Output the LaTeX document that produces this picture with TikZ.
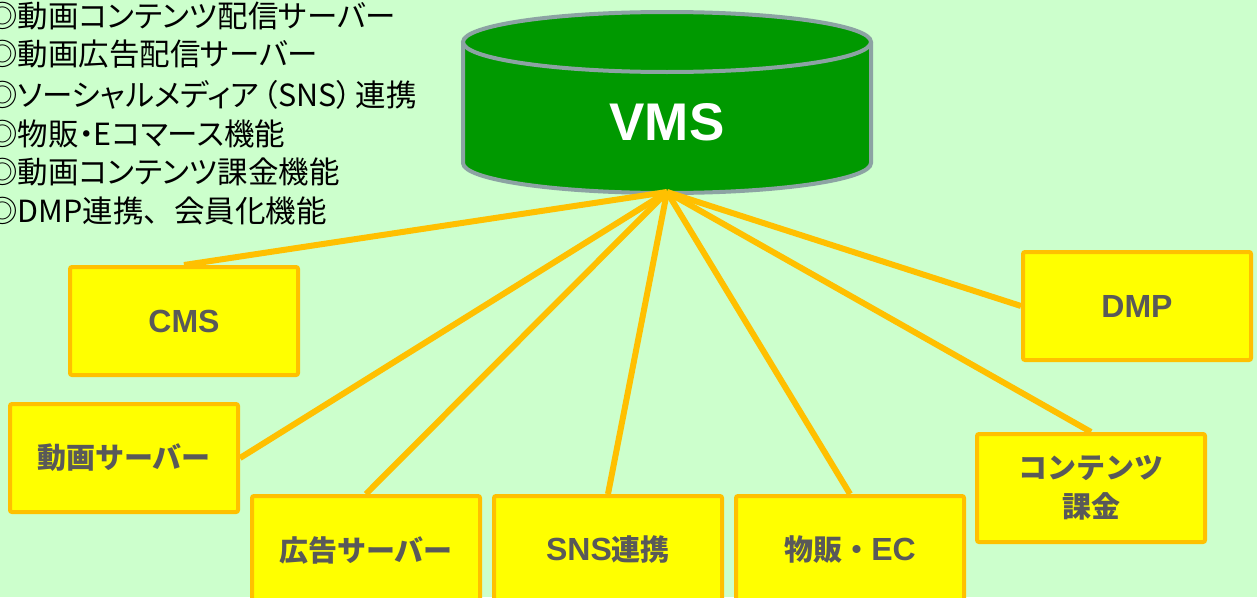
\documentclass[tikz,border=0pt]{standalone}
\usepackage{fontspec}
\newfontfamily\jp{Noto Sans CJK JP}
\newfontfamily\jpp[RawFeature=+palt]{Noto Sans CJK JP}
\newfontfamily\lat{Liberation Sans}
\newcommand\lt[1]{{\lat\bfseries\fontsize{32}{38}\selectfont #1}}
\newcommand\fw[1]{{\jp #1}}
\definecolor{bg}{HTML}{CCFFCC}
\definecolor{cylgreen}{HTML}{009900}
\definecolor{cylgray}{HTML}{8CA3A3}
\definecolor{boxfill}{HTML}{FFFF00}
\definecolor{boxline}{HTML}{FFC000}
\definecolor{txt}{HTML}{595959}
\tikzset{
  sysbox/.style={draw=boxline, fill=boxfill, line width=4pt, rounded corners=2pt,
    minimum width=228pt, minimum height=108pt, inner sep=0pt,
    text=txt, font=\jp\bfseries\fontsize{29}{39}\selectfont, align=center},
  link/.style={draw=boxline, line width=6pt},
  listline/.style={anchor=west, inner sep=0pt, text=black,
    font=\jpp\fontsize{30.5}{36}\selectfont}
}
\begin{document}
\begin{tikzpicture}[x=1pt,y=-1pt]
\fill[bg] (0,0) rectangle (1257,597);
\useasboundingbox (0,0) rectangle (1257,597);
% list text
\node[listline] (l1) at (-13,16) {◎動画コンテンツ配信サーバー};
\node[listline] (l2) at (-13,54) {◎動画広告配信サーバー};
\node[listline] (l3) at (-13,95) {◎ソーシャルメディア\kern4pt（SNS）\kern4pt連携};
\node[listline] (l4) at (-13,134) {◎物販・Eコマース機能};
\node[listline] (l5) at (-13,172) {◎動画コンテンツ課金機能};
\node[listline] (l6) at (-13,211) {◎DMP連携\fw{、}会員化機能};
% cylinder
\fill[cylgreen] (463,42) -- (463,163) arc[start angle=180,end angle=360,x radius=204pt,y radius=30pt] -- (871,42) -- cycle;
\draw[cylgray, line width=4pt] (463,42) -- (463,163) arc[start angle=180,end angle=360,x radius=204pt,y radius=30pt] -- (871,42);
\filldraw[fill=cylgreen, draw=cylgray, line width=4pt] (667,42) ellipse[x radius=204pt, y radius=30pt];
\node[text=white, font=\lat\bfseries\fontsize{53}{60}\selectfont, inner sep=0pt] (vms) at (667,122) {VMS};
\coordinate (vmsb) at (667,192);
% boxes
\node[sysbox] (cms) at (184,321) {\lt{CMS}};
\node[sysbox] (vsrv) at (124,458) {動画サーバー};
\node[sysbox] (ad) at (366,550) {広告サーバー};
\node[sysbox] (sns) at (608,550) {\lt{SNS}連携};
\node[sysbox] (ec) at (850,550) {物販・\lt{EC}};
\node[sysbox] (pay) at (1091,488) {コンテンツ\\課金};
\node[sysbox] (dmp) at (1137,306) {\lt{DMP}};
% links
\draw[link] (vmsb) -- (cms.north);
\draw[link] (vmsb) -- (vsrv.east);
\draw[link] (vmsb) -- (ad.north);
\draw[link] (vmsb) -- (sns.north);
\draw[link] (vmsb) -- (ec.north);
\draw[link] (vmsb) -- (pay.north);
\draw[link] (vmsb) -- (dmp.west);
\end{tikzpicture}
\end{document}
